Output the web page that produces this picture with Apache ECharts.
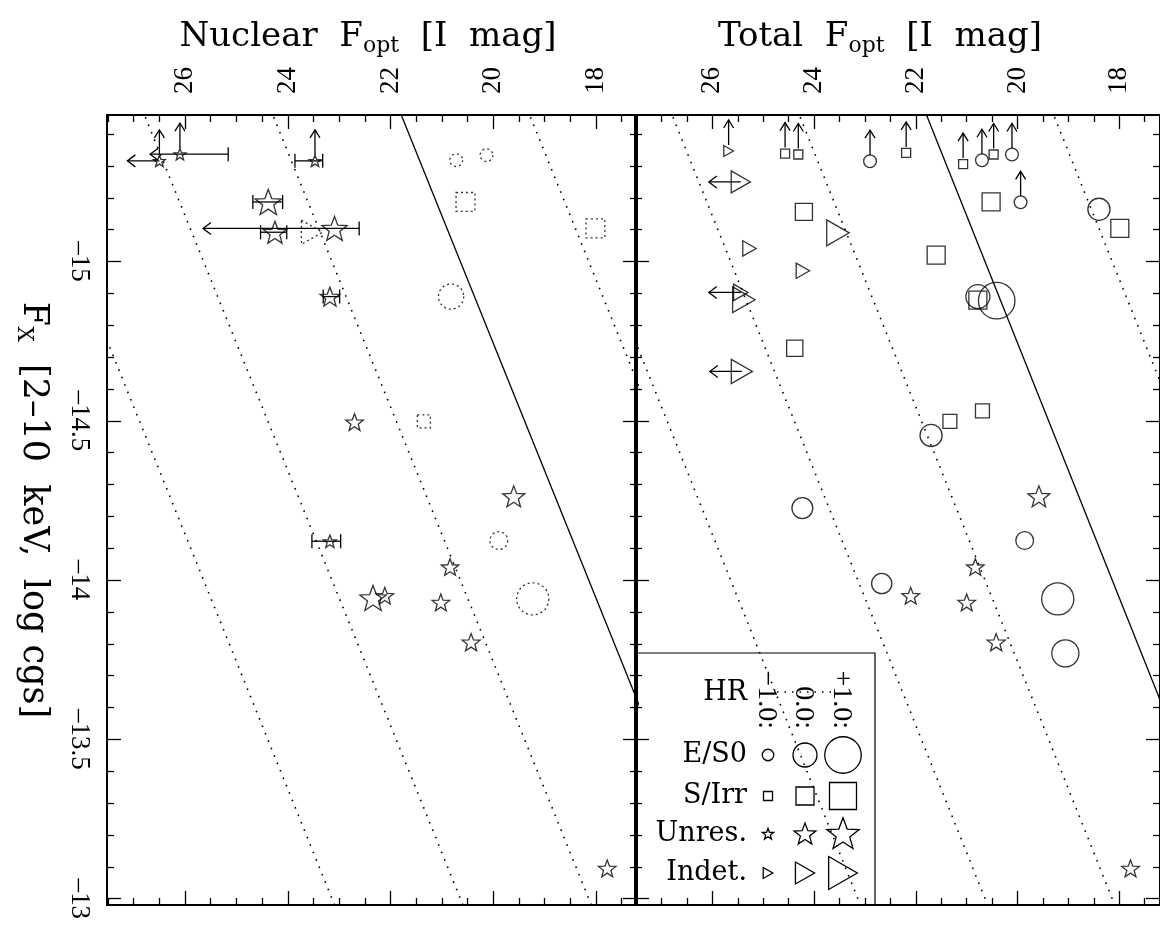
<!DOCTYPE html>
<html><head><meta charset="utf-8">
<script src="https://cdn.jsdelivr.net/npm/echarts@6/dist/echarts.min.js"></script>
<style>html,body{margin:0;padding:0;background:#fff}#c{width:1160px;height:926px}</style>
</head><body><div id="c"></div>
<script>
// ---------------- data ----------------
const magTicks = [18, 20, 22, 24, 26];
const magMinorTicks = [17.5,18.5,19,19.5,20.5,21,21.5,22.5,23,23.5,24.5,25,25.5,26.5,27,27.5];
const fxTicks = [-15, -14.5, -14, -13.5, -13];
const fxMinorTicks = [-15.4,-15.3,-15.2,-15.1,-14.9,-14.8,-14.7,-14.6,-14.4,-14.3,-14.2,-14.1,-13.9,-13.8,-13.7,-13.6,-13.4,-13.3,-13.2,-13.1];
const hrLabels = ['\u22121.0:', '0.0:', '+1.0:'];
const hrLegend = [-1, 0, 1];

// constant X/O ratio lines [mag, logFx]
const xoSolid = [[21.89, -15.5], [15.39, -12.9]];
const xoDotted = [
  [[19.39, -15.5], [12.89, -12.9]],
  [[24.39, -15.5], [17.89, -12.9]],
  [[26.89, -15.5], [20.39, -12.9]],
  [[29.39, -15.5], [22.89, -12.9]]
];

// Nuclear panel: [mag, logFx, HR]
const nucUnres = [[26.50,-15.316,-1],[26.10,-15.337,-1],[23.47,-15.316,-1],[24.38,-15.187,0.3],[24.25,-15.092,0],
  [23.09,-15.104,0.2],[23.18,-14.890,-0.3],[22.70,-14.496,-0.5],[23.18,-14.122,-0.9],[22.34,-13.944,0.3],
  [22.11,-13.951,-0.5],[21.02,-13.930,-0.5],[20.84,-14.041,-0.5],[20.43,-13.805,-0.45],[19.60,-14.263,-0.1],[17.78,-13.095,-0.5]];
const nucEllip = [[20.72,-15.318,-0.9],[20.13,-15.334,-0.9],[20.82,-14.890,0.1],[19.89,-14.124,-0.5],[19.23,-13.941,0.65]];
const nucSpiral = [[20.54,-15.187,0.1],[18.01,-15.104,0.1],[21.35,-14.498,-0.55]];
const nucIndet = [[23.53,-15.092,0.2]];
const nucUpArrows = [[26.50,-15.316],[26.10,-15.337],[23.47,-15.316]];
const nucLeftArrows = [[26.50,-15.316]];
// [mag, logFx, faint end, bright end, faint-end type (1 cap, 2 arrow), bright-end type]
const nucErrBars = [[26.10,-15.337,26.68,25.16,2,1],[23.47,-15.316,23.86,23.32,1,1],[24.38,-15.187,24.68,24.10,1,1],
  [24.25,-15.092,24.53,24.02,1,1],[23.09,-15.104,25.65,22.61,2,1],[23.18,-14.890,23.31,22.99,1,1],[23.18,-14.122,23.53,22.97,1,1]];

// Total panel: [mag, logFx, HR]
const totEllip = [[22.90,-15.315,-0.9],[20.70,-15.318,-0.9],[20.11,-15.336,-0.9],[19.94,-15.186,-0.9],[18.40,-15.164,-0.15],
  [20.78,-14.890,0],[20.41,-14.877,1.0],[24.23,-14.226,-0.25],[22.67,-13.989,-0.3],[21.70,-14.454,-0.15],
  [19.86,-14.124,-0.5],[19.21,-13.941,0.65],[19.06,-13.770,0.25]];
const totSpiral = [[24.57,-15.339,-1],[24.31,-15.336,-1],[22.19,-15.341,-1],[21.07,-15.306,-1],[20.47,-15.336,-1],
  [24.20,-15.156,-0.1],[20.52,-15.187,0],[17.99,-15.104,0],[21.60,-15.020,0],[20.78,-14.879,0],
  [24.38,-14.728,-0.2],[21.33,-14.498,-0.45],[20.69,-14.531,-0.45]];
const totUnres = [[22.10,-13.951,-0.5],[21.00,-13.930,-0.5],[20.83,-14.041,-0.5],[20.42,-13.805,-0.45],[19.58,-14.263,-0.1],[17.78,-13.095,-0.5]];
const totIndet = [[25.68,-15.347,-1],[25.44,-15.250,0],[23.53,-15.090,0.35],[25.27,-15.041,-0.6],[24.22,-14.971,-0.6],
  [25.44,-14.903,-0.5],[25.38,-14.880,0.35],[25.42,-14.655,0.2]];
const totUpArrows = [[22.90,-15.315],[20.70,-15.318],[20.11,-15.336],[19.94,-15.186],[24.57,-15.339],[24.31,-15.336],
  [22.19,-15.341],[21.07,-15.306],[20.47,-15.336],[25.68,-15.347]];
const totLeftArrows = [[25.44,-15.250],[25.44,-14.903],[25.42,-14.655]];

// ---------------- styling ----------------
const FONT = 'DejaVu Serif';
const NUMFONT = 'Liberation Serif';
const MAG_MIN = 17.2, MAG_MAX = 27.52, FX_MIN = -15.46, FX_MAX = -12.98;
const STAR = 'path://M50 0 L62.34 33.01 L97.55 34.55 L69.97 56.49 L79.39 90.45 L50 71 L20.61 90.45 L30.03 56.49 L2.45 34.55 L37.66 33.01 Z';
const TRI = 'path://M0 0 L87 50 L0 100 Z';
const sizeCircle = h => 24 + 12.5 * h;
const sizeSquare = h => 18 + 9 * h;
const sizeStar = h => 23 + 11 * h;
const sizeTri = h => 22 + 11 * h;
const LW = 1.3;

function magAxes(grid, withLabels) {
  const mk = (pos, vals, len, lab) => ({
    type: 'value', gridIndex: grid, position: pos, min: MAG_MIN, max: MAG_MAX, inverse: true,
    splitLine: {show: false},
    axisLine: {show: true, onZero: false, lineStyle: {color: '#000', width: 1.8}},
    axisTick: {show: true, inside: true, length: len, customValues: vals, lineStyle: {color: '#000', width: LW}},
    axisLabel: lab ? {show: true, customValues: vals, rotate: -90, margin: 21, fontFamily: NUMFONT, fontSize: 27, color: '#000',
      formatter: v => String(v)} : {show: false}
  });
  return [mk('top', magTicks, 14, withLabels), mk('top', magMinorTicks, 7, false),
          mk('bottom', magTicks, 14, false), mk('bottom', magMinorTicks, 7, false)];
}
function fxAxes(grid, withLabels) {
  const mk = (pos, vals, len, lab) => {
    const a = {
      type: 'value', gridIndex: grid, position: pos, min: FX_MIN, max: FX_MAX, inverse: true,
      splitLine: {show: false},
      axisLine: {show: true, onZero: false, lineStyle: {color: '#000', width: 1.8}},
      axisTick: {show: true, inside: true, length: len, customValues: vals, lineStyle: {color: '#000', width: LW}},
      axisLabel: lab ? {show: true, customValues: vals, rotate: -90, margin: 14, fontFamily: NUMFONT, fontSize: 27, color: '#000',
        formatter: v => (v < 0 ? '\u2013' : '') + String(Math.abs(v))} : {show: false}
    };
    if (lab) {
      a.name = 'F{sub|X}  [2\u201310  keV,  log cgs]';
      a.nameLocation = 'middle';
      a.nameRotate = -90;
      a.nameGap = 54;
      a.nameTextStyle = {fontFamily: FONT, fontSize: 35, color: '#000', lineHeight: 40,
        rich: {sub: {fontFamily: FONT, fontSize: 22, color: '#000', verticalAlign: 'bottom', lineHeight: 12}}};
    }
    return a;
  };
  return [mk('left', fxTicks, 14, withLabels), mk('left', fxMinorTicks, 7, false),
          mk('right', fxTicks, 14, false), mk('right', fxMinorTicks, 7, false)];
}

function scatter(data, grid, symbol, sizeFn, dotted) {
  return {type: 'scatter', data: data, xAxisIndex: grid * 4, yAxisIndex: grid * 4, symbol: symbol, symbolKeepAspect: true,
    symbolSize: v => sizeFn(v[2]),
    itemStyle: {color: 'rgba(0,0,0,0)', borderColor: '#000', borderWidth: LW, borderType: dotted ? [2, 3] : 'solid'},
    silent: true, z: 3, animation: false};
}
function lineStyle() { return {stroke: '#000', lineWidth: LW, fill: null}; }
function upArrow(params, api) {
  const p = api.coord([api.value(0), api.value(1)]);
  const x = p[0], y0 = p[1] - 6, y1 = p[1] - 31;
  return {type: 'group', children: [
    {type: 'line', shape: {x1: x, y1: y0, x2: x, y2: y1}, style: lineStyle()},
    {type: 'polyline', shape: {points: [[x - 5, y1 + 8], [x, y1], [x + 5, y1 + 8]]}, style: lineStyle()}
  ]};
}
function leftArrow(params, api) {
  const p = api.coord([api.value(0), api.value(1)]);
  const y = p[1], x0 = p[0], x1 = p[0] - 32;
  return {type: 'group', children: [
    {type: 'line', shape: {x1: x0, y1: y, x2: x1, y2: y}, style: lineStyle()},
    {type: 'polyline', shape: {points: [[x1 + 8, y - 6], [x1, y], [x1 + 8, y + 6]]}, style: lineStyle()}
  ]};
}
function errBar(params, api) {
  const y = api.coord([api.value(0), api.value(1)])[1];
  const xa = api.coord([api.value(2), api.value(1)])[0];
  const xb = api.coord([api.value(3), api.value(1)])[0];
  const ta = api.value(4), tb = api.value(5);
  const ch = [{type: 'line', shape: {x1: xa, y1: y, x2: xb, y2: y}, style: lineStyle()}];
  if (ta === 1) ch.push({type: 'line', shape: {x1: xa, y1: y - 7, x2: xa, y2: y + 7}, style: lineStyle()});
  if (ta === 2) ch.push({type: 'polyline', shape: {points: [[xa + 8, y - 6], [xa, y], [xa + 8, y + 6]]}, style: lineStyle()});
  if (tb === 1) ch.push({type: 'line', shape: {x1: xb, y1: y - 7, x2: xb, y2: y + 7}, style: lineStyle()});
  return {type: 'group', children: ch};
}
function custom(data, grid, render) {
  return {type: 'custom', data: data, xAxisIndex: grid * 4, yAxisIndex: grid * 4, renderItem: render,
    encode: {x: 0, y: 1}, silent: true, z: 4, animation: false};
}
function xoLine(pts, grid, solid) {
  return {type: 'line', data: pts, xAxisIndex: grid * 4, yAxisIndex: grid * 4, symbol: 'none', showSymbol: false, clip: true,
    lineStyle: {color: '#000', width: solid ? 1.3 : 1.6, type: solid ? 'solid' : [1.6, 6.4]}, silent: true, z: 1, animation: false};
}

const series = [];
[0, 1].forEach(g => {
  series.push(xoLine(xoSolid, g, true));
  xoDotted.forEach(l => series.push(xoLine(l, g, false)));
});
series.push(scatter(nucUnres, 0, STAR, sizeStar, false));
series.push(scatter(nucEllip, 0, 'circle', sizeCircle, true));
series.push(scatter(nucSpiral, 0, 'rect', sizeSquare, true));
series.push(scatter(nucIndet, 0, TRI, sizeTri, true));
series.push(custom(nucUpArrows, 0, upArrow));
series.push(custom(nucLeftArrows, 0, leftArrow));
series.push(custom(nucErrBars, 0, errBar));
series.push(scatter(totEllip, 1, 'circle', sizeCircle, false));
series.push(scatter(totSpiral, 1, 'rect', sizeSquare, false));
series.push(scatter(totUnres, 1, STAR, sizeStar, false));
series.push(scatter(totIndet, 1, TRI, sizeTri, false));
series.push(custom(totUpArrows, 1, upArrow));
series.push(custom(totLeftArrows, 1, leftArrow));

// ---------------- legend + titles (graphic) ----------------
function starPts(cx, cy, s) {
  const R = s / 2, r = R * 0.42, pts = [];
  for (let i = 0; i < 10; i++) {
    const a = (-90 + 36 * i) * Math.PI / 180, rr = i % 2 ? r : R;
    pts.push([cx + rr * Math.cos(a), cy + rr * Math.sin(a) + R * 0.05]);
  }
  return pts;
}
const txt = (t, x, y, size, align, extra, font) => Object.assign({type: 'text', x: x, y: y, silent: true,
  style: {text: t, fontFamily: font || FONT, fontSize: size, fill: '#000', align: align || 'left', verticalAlign: 'middle'}}, extra || {});
const graphics = [];
const titleRich = {sub: {fontFamily: FONT, fontSize: 22, fill: '#000', verticalAlign: 'bottom', lineHeight: 12}};
graphics.push({type: 'text', x: 368, y: 37, silent: true, style: {text: 'Nuclear  F{sub|opt}  [I  mag]', fontFamily: FONT, fontSize: 34,
  lineHeight: 40, fill: '#000', align: 'center', verticalAlign: 'middle', rich: titleRich}});
graphics.push({type: 'text', x: 880, y: 37, silent: true, style: {text: 'Total  F{sub|opt}  [I  mag]', fontFamily: FONT, fontSize: 34,
  lineHeight: 40, fill: '#000', align: 'center', verticalAlign: 'middle', rich: titleRich}});
// legend box
graphics.push({type: 'rect', silent: true, shape: {x: 637, y: 653, width: 238, height: 252}, style: {fill: null, stroke: '#000', lineWidth: 1.2}});
const colX = [768, 805, 843];
const rowY = {hr: 693, e: 755, s: 796, u: 834, i: 873};
graphics.push(txt('HR', 747, rowY.hr, 27, 'right'));
graphics.push(txt('E/S0', 747, rowY.e, 27, 'right'));
graphics.push(txt('S/Irr', 747, rowY.s, 27, 'right'));
graphics.push(txt('Unres.', 747, rowY.u, 27, 'right'));
graphics.push(txt('Indet.', 747, rowY.i, 27, 'right'));
hrLabels.forEach((t, k) => graphics.push(txt(t, colX[k] - 2, 729, 28, 'right', {rotation: -Math.PI / 2}, NUMFONT)));
graphics.push({type: 'line', silent: true, shape: {x1: 777, y1: 692, x2: 834, y2: 692}, style: {stroke: '#000', lineWidth: 1.4, lineDash: [1.5, 6]}});
hrLegend.forEach((h, k) => {
  const x = colX[k];
  graphics.push({type: 'circle', silent: true, shape: {cx: x, cy: rowY.e, r: sizeCircle(h) / 2}, style: {fill: null, stroke: '#000', lineWidth: LW}});
  const sq = sizeSquare(h);
  graphics.push({type: 'rect', silent: true, shape: {x: x - sq / 2, y: rowY.s - sq / 2, width: sq, height: sq}, style: {fill: null, stroke: '#000', lineWidth: LW}});
  graphics.push({type: 'polygon', silent: true, shape: {points: starPts(x, rowY.u, sizeStar(h))}, style: {fill: null, stroke: '#000', lineWidth: LW}});
  const th = sizeTri(h), tw = th * 0.87;
  graphics.push({type: 'polygon', silent: true, shape: {points: [[x - tw / 2, rowY.i - th / 2], [x + tw / 2, rowY.i], [x - tw / 2, rowY.i + th / 2]]},
    style: {fill: null, stroke: '#000', lineWidth: LW}});
});

const chart = echarts.init(document.getElementById('c'), null, {renderer: 'canvas'});
chart.setOption({
  backgroundColor: '#fff',
  animation: false,
  grid: [
    {left: 107, top: 115, width: 530, height: 790},
    {left: 635, top: 115, width: 530, height: 790}
  ],
  xAxis: [].concat(magAxes(0, true), magAxes(1, true)),
  yAxis: [].concat(fxAxes(0, true), fxAxes(1, false)),
  series: series,
  graphic: graphics
});
</script></body></html>
